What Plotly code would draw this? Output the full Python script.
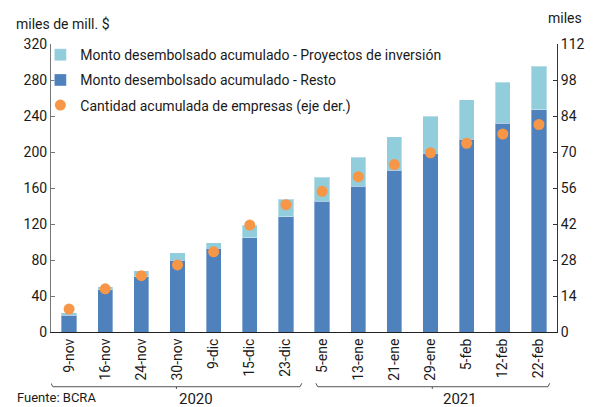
import plotly.graph_objects as go

# Fechas de corte (eje de categorías)
fechas = ["9-nov", "16-nov", "24-nov", "30-nov", "9-dic", "15-dic", "23-dic",
          "5-ene", "13-ene", "21-ene", "29-ene", "5-feb", "12-feb", "22-feb"]

# Monto desembolsado acumulado (miles de mill. $)
resto = [18.5, 46.7, 61.5, 80.0, 93.0, 104.8, 128.1,
         145.2, 161.9, 179.6, 198.8, 214.0, 232.0, 247.0]
proyectos = [2.9, 3.7, 6.3, 7.8, 6.3, 13.7, 19.3,
             26.6, 32.5, 37.1, 41.0, 44.0, 45.6, 48.4]

# Cantidad acumulada de empresas (miles, eje derecho)
empresas = [8.9, 16.8, 21.9, 26.1, 31.2, 41.6, 49.5,
            54.7, 60.4, 65.1, 69.7, 73.4, 77.0, 80.7]

# Agrupación por año debajo del eje
anios = ["2020", "2021"]

FONT = "Roboto"
DARK = "#4F81BD"
LIGHT = "#92CDDC"
ORANGE = "#F79646"
TXT = "#1a1a1a"

fig = go.Figure()
fig.add_trace(go.Bar(
    x=fechas, y=resto, name="Monto desembolsado acumulado - Resto",
    marker=dict(color=DARK, line=dict(color="rgba(255,255,255,0.35)", width=1)),
    width=0.42, legendgroup="b", legendrank=2,
))
fig.add_trace(go.Bar(
    x=fechas, y=proyectos, name="Monto desembolsado acumulado - Proyectos de inversión",
    marker=dict(color=LIGHT, line=dict(color="rgba(255,255,255,0.35)", width=1)),
    width=0.42, legendgroup="a", legendrank=1,
))
fig.add_trace(go.Scatter(
    x=fechas, y=empresas, yaxis="y2", mode="markers",
    name="Cantidad acumulada de empresas (eje der.)",
    marker=dict(color=ORANGE, size=11), legendgroup="c", legendrank=3,
))

tickfont = dict(family=FONT, size=14, color=TXT)

# Llaves de agrupación por año (coordenadas de categoría en x)
grupos = [(-0.5, 6.44, 2.97, 3.52), (6.83, 13.3, 10.05, 10.82)]
shapes = []
ann = []
yb = -0.19
for (x0, x1, xc, xt), anio in zip(grupos, anios):
    shapes.append(dict(type="path", xref="x", yref="paper",
                       path=f"M {x0},{yb + 0.012} L {x0 + 0.05},{yb} L {x1 - 0.05},{yb} L {x1},{yb + 0.012}",
                       line=dict(color="#555", width=1)))
    shapes.append(dict(type="line", xref="x", yref="paper", x0=xc, x1=xc, y0=yb, y1=yb - 0.008,
                       line=dict(color="#555", width=1)))
    ann.append(dict(text=anio, xref="x", yref="paper", x=xt, y=-0.233,
                    showarrow=False, font=dict(family=FONT, size=15, color=TXT),
                    xanchor="center", yanchor="middle"))

ann += [
    dict(text="miles de mill. $", xref="paper", yref="paper", x=-0.073, y=1.069,
         xanchor="left", yanchor="middle", showarrow=False,
         font=dict(family=FONT, size=14, color=TXT)),
    dict(text="miles", xref="paper", yref="paper", x=1.016, y=1.09,
         xanchor="center", yanchor="middle", showarrow=False,
         font=dict(family=FONT, size=14, color=TXT)),
    dict(text="Fuente: BCRA", xref="paper", yref="paper", x=-0.072, y=-0.26,
         xanchor="left", yanchor="bottom", showarrow=False,
         font=dict(family=FONT, size=13, color=TXT)),
]

fig.update_layout(
    width=597, height=407,
    margin=dict(l=51, r=38, t=44, b=75),
    paper_bgcolor="white", plot_bgcolor="white",
    barmode="stack",
    font=dict(family=FONT, size=14, color=TXT),
    showlegend=True,
    legend=dict(x=-0.021, y=1.017, xanchor="left", yanchor="top",
                bgcolor="rgba(0,0,0,0)", font=dict(family=FONT, size=14, color=TXT),
                traceorder="grouped", tracegroupgap=4, itemwidth=30),
    xaxis=dict(type="category", tickangle=-90, tickfont=tickfont, showline=True,
               linecolor="#222", linewidth=1, ticks="", showgrid=False,
               range=[-0.5, 13.5]),
    yaxis=dict(range=[0, 320], dtick=40, tickfont=tickfont, showline=True,
               linecolor="#777", linewidth=1, ticks="inside", ticklen=4,
               tickcolor="#777", showgrid=False, zeroline=False),
    yaxis2=dict(range=[0, 112], dtick=14, overlaying="y", side="right",
                tickfont=tickfont, showline=True, linecolor="#333", linewidth=1,
                ticks="inside", ticklen=4, tickcolor="#333", showgrid=False,
                zeroline=False),
    shapes=shapes, annotations=ann,
)

fig.write_html("out.html")
